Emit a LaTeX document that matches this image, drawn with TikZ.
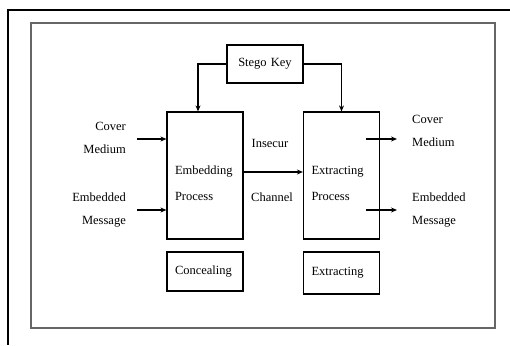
\documentclass[tikz,border=0pt]{standalone}
\usepackage{fontspec}
\setmainfont{Liberation Serif}
\usetikzlibrary{arrows.meta}

\begin{document}
\begin{tikzpicture}[x=1pt,y=-1pt,font=\fontsize{12.5}{14}\selectfont]
\useasboundingbox (0,0) rectangle (510,345);
% frames
\draw[line width=1.3pt] (510,10) -- (8,10) -- (8,345);
\draw[black!60,line width=1.3pt] (31,23) rectangle (495,328);
\begin{scope}[every node/.style={draw,line width=1.2pt,minimum width=76pt,text width=60pt,align=left}]
    \node[minimum height=38pt,align=center] (key) at (265,64) {Stego Key};
    \node[minimum height=127pt] (emb) at (205,175.5) {\rule{0pt}{25pt}Embedding\\[12pt]Process};
    \node[minimum height=127pt] (ext) at (341.5,175.5) {\rule{0pt}{25pt}Extracting\\[12pt]Process};
    \node[minimum height=39pt] (conc) at (205,271.5) {Concealing};
    \node[minimum height=42pt] (extr) at (341.5,273) {Extracting};
\end{scope}
\begin{scope}[every node/.style={inner sep=0pt}]
    \node[anchor=east,align=right] (cml) at (126,137.5) {Cover\\[9pt]Medium};
    \node[anchor=east,align=right] (eml) at (126,210.5) {Embedded\\[9pt]Message};
    \node[anchor=west,align=left] (cmr) at (412,130.5) {Cover\\[9pt]Medium};
    \node[anchor=west,align=left] (emr) at (412,210.5) {Embedded\\[9pt]Message};
    \node (ins) at (270,143) {Insecur};
    \node (chan) at (272,197) {Channel};
\end{scope}
\coordinate (cin) at (137,139);
\coordinate (ein) at (137,210);
\coordinate (cout) at (397,139);
\coordinate (eout) at (397,210);
\begin{scope}[>={Stealth[black,length=6pt,width=5pt]},line width=1.1pt]
    \draw[->] (key.west) -| ([xshift=-7pt]emb.north);
    \draw[->] (key.east) -| (ext.north);
    \draw[->] (cin) -- (cin -| emb.west);
    \draw[->] (ein) -- (ein -| emb.west);
    \draw[->] ([yshift=3.5pt]emb.east) -- ([yshift=3.5pt]ext.west);
    \draw[->] (cout -| 366,0) -- (cout);
    \draw[->] (eout -| 366,0) -- (eout);
\end{scope}
\end{tikzpicture}
\end{document}
